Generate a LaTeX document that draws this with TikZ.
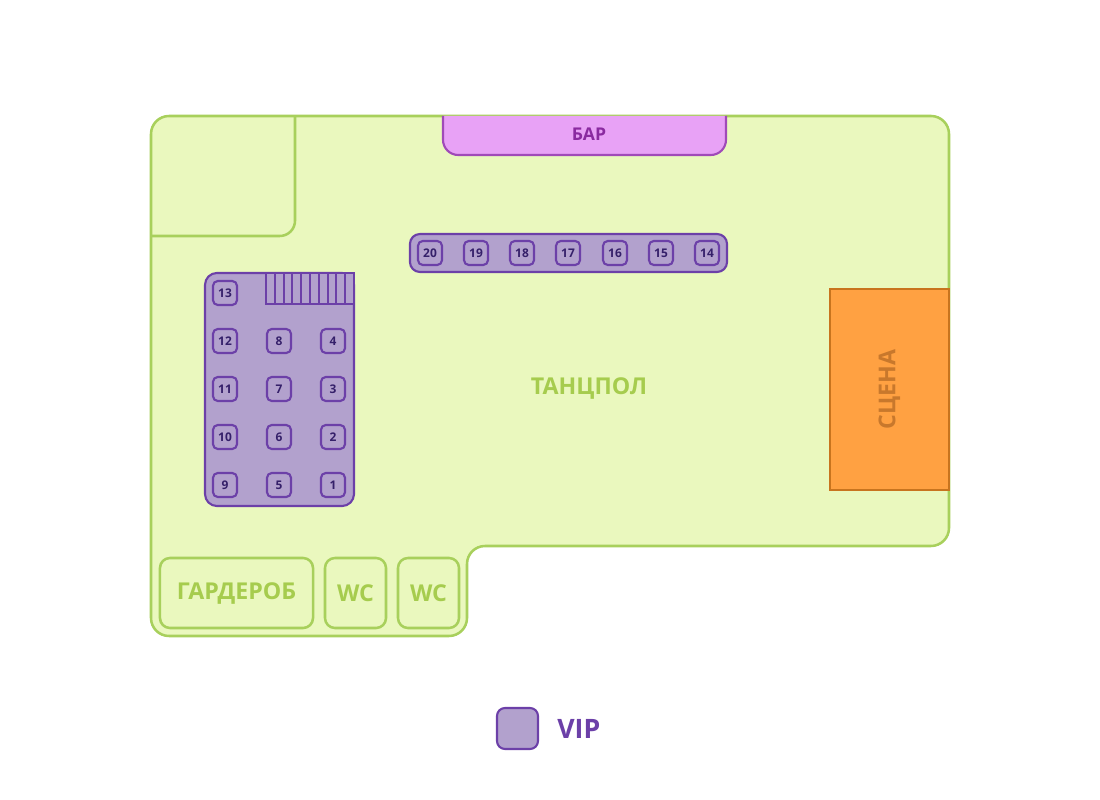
\documentclass[tikz,border=0pt]{standalone}
\usepackage{fontspec}
\setmainfont{Open Sans}
\usepackage{tikz}
\usetikzlibrary{positioning}
\definecolor{floorfill}{HTML}{EAF8BE}
\definecolor{floorline}{HTML}{A8D05C}
\definecolor{floortext}{HTML}{A6CC4E}
\definecolor{barfill}{HTML}{E8A2F6}
\definecolor{barline}{HTML}{A04AB8}
\definecolor{bartext}{HTML}{8A2AA0}
\definecolor{vipfill}{HTML}{B2A1CD}
\definecolor{vipline}{HTML}{6C40A8}
\definecolor{viptext}{HTML}{35206A}
\definecolor{stagefill}{HTML}{FFA142}
\definecolor{stageline}{HTML}{C8741E}
\definecolor{stagetext}{HTML}{C8782C}
\tikzset{
  floorwall/.style={draw=floorline,line width=1.8pt},
  room/.style={floorwall,fill=floorfill,rectangle,rounded corners=0.25cm,inner sep=0pt,
    minimum height=1.75cm,text=floortext,font=\bfseries\fontsize{16.5}{16.5}\selectfont},
  vipwall/.style={draw=vipline,line width=1.5pt,fill=vipfill},
  tablebox/.style={vipwall,rectangle,rounded corners=0.12cm,inner sep=0pt,minimum size=0.6cm,
    text=viptext,font=\bfseries\fontsize{8.5}{8.5}\selectfont}
}
\newcommand{\tikzTableNode}[3]{
  \node[tablebox] (#1) at (#2) {#3};
}

\begin{document}
\begin{tikzpicture}[x=0.025cm,y=-0.025cm]
  \useasboundingbox (0,0) rectangle (1100,800);

  % venue
  \draw[floorwall,fill=floorfill,rounded corners=0.45cm] (151,300) -- (151,116) -- (949,116)
    -- (949,546) -- (467,546) -- (467,636) -- (151,636) -- cycle;
  \draw[floorwall,rounded corners=0.38cm] (295,116) -- (295,236) -- (151,236);

  % bar
  \draw[draw=barline,line width=1.5pt,fill=barfill,rounded corners=0.38cm]
    (443,116) -- (443,155) -- (726,155) -- (726,116);
  \node[text=bartext,font=\bfseries\fontsize{12.5}{12.5}\selectfont] (bar) at (589,134) {БАР};

  % stage
  \node[draw=stageline,line width=1.5pt,fill=stagefill,rotate=90,inner sep=0pt,
    minimum width=5.025cm,minimum height=2.975cm,text=stagetext,
    font=\bfseries\fontsize{16.5}{16.5}\selectfont] (stage) at (889.5,389.5) {СЦЕНА};

  % dance floor
  \node[text=floortext,font=\bfseries\fontsize{16.5}{16.5}\selectfont] (floor) at (589,389) {ТАНЦПОЛ};

  % rooms
  \node[room,minimum width=3.825cm] (wardrobe) at (236.5,593) {ГАРДЕРОБ};
  \node[room,minimum width=1.525cm] (wc1) at (355.5,593) {WC};
  \node[room,minimum width=1.525cm] (wc2) at (428.5,593) {WC};

  % vip tables 1-13
  \node[vipwall,rectangle,rounded corners=0.3cm,minimum width=3.725cm,minimum height=5.825cm]
    (vipzone) at (279.5,389.5) {};
  \draw[vipwall] (266,273) rectangle (354,304);
  \draw[vipline,line width=1.4pt] (274.8,273) -- (274.8,304) (283.6,273) -- (283.6,304)
    (292.4,273) -- (292.4,304) (301.2,273) -- (301.2,304) (310,273) -- (310,304)
    (318.8,273) -- (318.8,304) (327.6,273) -- (327.6,304) (336.4,273) -- (336.4,304)
    (345.2,273) -- (345.2,304);
  \tikzTableNode{t1}{333,485}{1}
  \tikzTableNode{t2}{333,437}{2}
  \tikzTableNode{t3}{333,389}{3}
  \tikzTableNode{t4}{333,341}{4}
  \tikzTableNode{t5}{279,485}{5}
  \tikzTableNode{t6}{279,437}{6}
  \tikzTableNode{t7}{279,389}{7}
  \tikzTableNode{t8}{279,341}{8}
  \tikzTableNode{t9}{225,485}{9}
  \tikzTableNode{t10}{225,437}{10}
  \tikzTableNode{t11}{225,389}{11}
  \tikzTableNode{t12}{225,341}{12}
  \tikzTableNode{t13}{225,293}{13}

  % vip tables 14-20
  \node[vipwall,rectangle,rounded corners=0.25cm,minimum width=7.925cm,minimum height=0.95cm]
    (viprow) at (568.5,253) {};
  \tikzTableNode{t14}{707,253}{14}
  \tikzTableNode{t15}{661,253}{15}
  \tikzTableNode{t16}{615,253}{16}
  \tikzTableNode{t17}{568,253}{17}
  \tikzTableNode{t18}{522,253}{18}
  \tikzTableNode{t19}{476,253}{19}
  \tikzTableNode{t20}{430,253}{20}

  % legend
  \node[vipwall,rectangle,rounded corners=0.2cm,minimum size=1.025cm] (vipkey) at (517.5,728.5) {};
  \node[right=0.45cm of vipkey,inner sep=0pt,text=vipline,
    font=\bfseries\fontsize{19}{19}\selectfont] (viplabel) {VIP};

\end{tikzpicture}
\end{document}
